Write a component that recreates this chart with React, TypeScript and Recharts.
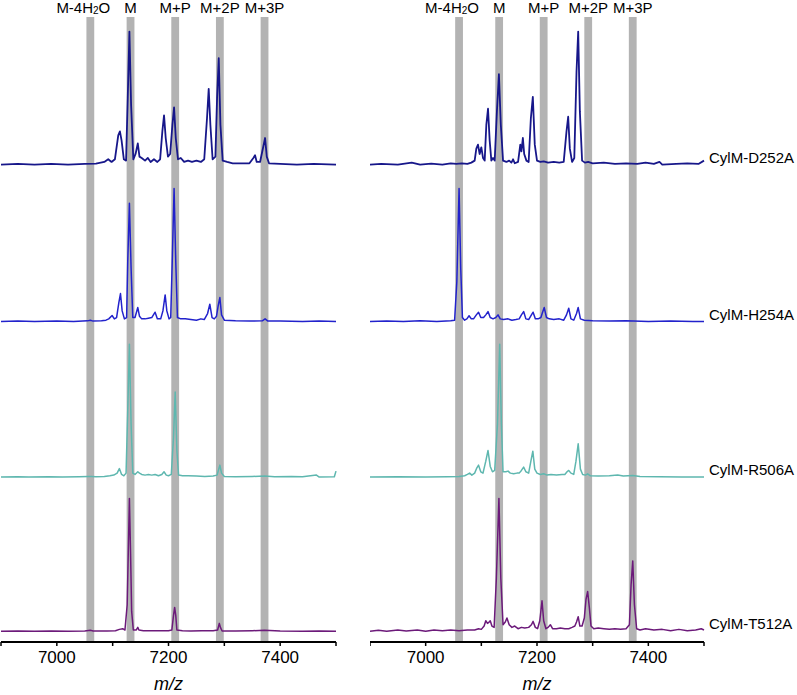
import { LineChart, Line, XAxis, YAxis, ReferenceArea, ReferenceDot } from 'recharts'

type Point = [number, number]

// m/z axis
const mzTicks = [6900, 7000, 7100, 7200, 7300, 7400, 7500]
const labelledTicks = [7000, 7200, 7400]

// gray marker bands
const bandCenters = [7060, 7132, 7212, 7292, 7372]
const bandLabels = ['M-4H2O', 'M', 'M+P', 'M+2P', 'M+3P']

// traces, top to bottom
const traceNames = ['CylM-D252A', 'CylM-H254A', 'CylM-R506A', 'CylM-T512A']
const traceColors = ['#17178a', '#2222cc', '#5eb7af', '#6c1a7a']
const traceOffsets = [359, 241, 124, 8]

// relative intensity (%)
const leftD252A: Point[] = [
  [6900, 0], [6930, 0.5], [6960, 0], [6990, 0.6], [7020, 0], [7050, 0.5], [7070, 0.8], [7085, 2], [7092, 4],
  [7098, 2], [7104, 4], [7110, 22], [7113, 25], [7116, 18], [7120, 4], [7124, 3], [7127, 50], [7130, 100],
  [7133, 45], [7137, 4], [7141, 8], [7145, 16], [7148, 6], [7152, 5], [7158, 3], [7163, 5], [7168, 2],
  [7174, 4], [7180, 2], [7185, 4], [7189, 25], [7192, 37], [7195, 20], [7199, 6], [7203, 8], [7207, 30],
  [7210, 43], [7213, 20], [7217, 4], [7222, 5], [7228, 2], [7235, 3], [7242, 2], [7250, 3], [7258, 2],
  [7264, 4], [7269, 35], [7272, 57], [7275, 30], [7279, 4], [7284, 6], [7287, 50], [7290, 80], [7293, 30],
  [7297, 3], [7305, 2], [7315, 1], [7330, 1], [7345, 1], [7352, 5], [7355, 7], [7358, 2], [7364, 2],
  [7370, 14], [7373, 20], [7376, 6], [7380, 1], [7400, 0.5], [7430, 0], [7460, 0.5], [7500, 0],
]
const leftH254A: Point[] = [
  [6900, 0], [6930, 0.3], [6960, 0], [7000, 0.3], [7030, 0], [7055, 0.5], [7060, 1], [7065, 0.3], [7080, 0.5],
  [7088, 1], [7093, 2], [7099, 4.5], [7103, 2], [7107, 3], [7111, 14], [7114, 21], [7117, 8], [7121, 2],
  [7125, 3], [7127, 45], [7130, 89], [7133, 40], [7136, 3], [7140, 3], [7145, 10.5], [7148, 4], [7152, 2],
  [7158, 2], [7164, 2.5], [7170, 3], [7176, 7], [7180, 2], [7186, 2], [7190, 8], [7194, 20], [7197, 8],
  [7201, 2], [7204, 3], [7207, 50], [7210, 100], [7213, 45], [7216, 3], [7222, 2], [7230, 2], [7240, 1.5],
  [7250, 1], [7258, 2], [7264, 1.5], [7270, 6], [7274, 13], [7278, 3], [7282, 2], [7286, 4], [7289, 12],
  [7292, 18], [7295, 5], [7300, 1], [7320, 0.5], [7345, 0.3], [7368, 0.5], [7373, 2], [7378, 0.3],
  [7400, 0.3], [7440, 0], [7470, 0.3], [7500, 0],
]
const leftR506A: Point[] = [
  [6900, 0], [6930, 0.3], [6950, 0], [6985, 0.3], [7010, 0], [7040, 0.3], [7056, 0.5], [7062, 0.5], [7070, 0.3],
  [7085, 0.5], [7095, 1], [7102, 1.5], [7108, 3], [7112, 6.4], [7116, 2], [7120, 1], [7124, 3], [7127, 50],
  [7130, 100], [7133, 40], [7136, 3], [7140, 2], [7145, 4], [7148, 3], [7152, 2], [7158, 1.5], [7164, 2],
  [7170, 1.5], [7176, 2], [7182, 1], [7188, 2], [7192, 4], [7196, 1.5], [7200, 1], [7205, 2], [7209, 30],
  [7212, 64], [7215, 20], [7218, 1.5], [7225, 1], [7235, 1], [7250, 0.8], [7265, 0.5], [7280, 0.8],
  [7287, 1.5], [7290, 6], [7292, 9], [7295, 3], [7300, 0.5], [7320, 0.3], [7350, 0.5], [7372, 0.8],
  [7390, 0.3], [7420, 0.5], [7440, 0.3], [7465, 1.5], [7470, 0], [7497, 0.3], [7500, 4.5],
]
const leftT512A: Point[] = [
  [6900, 0], [6930, 0.3], [6960, 0], [6990, 0.3], [7020, 0], [7050, 0.3], [7060, 0.8], [7065, 0.3], [7090, 0.3],
  [7105, 0.5], [7112, 1.5], [7118, 2], [7122, 1], [7126, 20], [7128, 60], [7130, 100], [7132, 60], [7134, 15],
  [7137, 1], [7142, 1], [7145, 3], [7147, 1], [7155, 0.5], [7170, 0.5], [7185, 0.5], [7200, 0.5], [7206, 1],
  [7209, 12], [7211, 18], [7213, 12], [7215, 1], [7225, 0.5], [7240, 0.3], [7260, 0.5], [7280, 0.5],
  [7288, 1], [7291, 6], [7293, 3], [7296, 0.3], [7320, 0.3], [7350, 0.5], [7372, 0.8], [7400, 0.3],
  [7440, 0], [7470, 0.3], [7500, 0],
]

// relative intensity (%)
const rightD252A: Point[] = [
  [6900, 0], [6920, 0.5], [6950, 0], [6975, 1.5], [6990, 0], [7010, 0.8], [7030, 0], [7045, 1], [7055, 0.5],
  [7065, 1], [7075, 0.5], [7082, 1.5], [7088, 3], [7091, 12], [7094, 15], [7097, 8], [7100, 13], [7103, 5],
  [7106, 3], [7109, 30], [7112, 42], [7115, 18], [7118, 3], [7121, 5], [7124, 3], [7128, 40], [7131.6, 68],
  [7135, 30], [7139, 3], [7145, 2], [7150, 3], [7154, 1.5], [7157, 4], [7160, 1], [7166, 2], [7170, 15],
  [7172, 10], [7174.6, 20], [7177, 8], [7181, 3], [7185, 2], [7189, 35], [7192.5, 51], [7196, 15], [7200, 3],
  [7206, 2], [7212, 2.5], [7220, 1.5], [7230, 2], [7240, 1.5], [7248, 2], [7253, 25], [7256, 36], [7259, 12],
  [7263, 2], [7267, 5], [7271, 70], [7274, 100], [7277, 40], [7281, 3], [7286, 1.5], [7292, 2], [7300, 1],
  [7320, 1.5], [7340, 0.5], [7360, 1], [7380, 0.5], [7395, 1.5], [7410, 0.5], [7420, 2], [7425, 0],
  [7450, 0.5], [7470, 1], [7490, 0.5], [7500, 3],
]
const rightH254A: Point[] = [
  [6900, 0], [6930, 0.3], [6960, 0], [6990, 0.5], [7020, 0], [7045, 0.5], [7052, 1], [7056, 30], [7060, 100],
  [7063, 40], [7066, 3], [7070, 1], [7074, 2], [7078, 4.3], [7082, 2], [7086, 2], [7091, 5], [7095, 7],
  [7099, 3], [7104, 3], [7108, 5], [7112, 7.5], [7116, 3], [7121, 2], [7126, 3], [7130, 5], [7134, 2],
  [7140, 1.5], [7148, 2], [7155, 1], [7162, 1.5], [7168, 2], [7172, 5], [7176, 7.5], [7180, 2], [7185, 1.5],
  [7190, 5], [7193, 7], [7197, 2], [7202, 2], [7207, 3], [7210, 7], [7213, 10.5], [7217, 3], [7222, 2],
  [7230, 1.5], [7240, 2], [7248, 1], [7253, 5], [7257, 10], [7261, 2], [7266, 1], [7271, 6], [7274, 10.5],
  [7278, 2], [7285, 1], [7300, 0.5], [7330, 0.3], [7360, 0.5], [7400, 0], [7440, 0.3], [7480, 0], [7500, 0],
]
const rightR506A: Point[] = [
  [6900, 0], [6950, 0.3], [7000, 0], [7040, 0.3], [7060, 0.5], [7070, 1], [7075, 2], [7079, 3], [7083, 1.5],
  [7088, 3], [7092, 7], [7095, 9], [7099, 4], [7103, 3], [7108, 12], [7112, 20], [7116, 8], [7120, 4],
  [7124, 5], [7129, 40], [7133, 100], [7136, 40], [7139, 4], [7144, 4], [7148, 4.5], [7152, 3], [7158, 2.5],
  [7164, 3], [7168, 3], [7172, 5], [7176, 7.5], [7180, 4], [7185, 3], [7189, 12], [7192.5, 19.5], [7196, 6],
  [7200, 3], [7206, 2], [7212, 2.5], [7218, 1.5], [7225, 2], [7235, 1.5], [7245, 2], [7250, 2], [7254, 4],
  [7257, 5], [7261, 3], [7266, 2], [7270, 12], [7274, 25], [7278, 6], [7282, 2], [7287, 1.5], [7291, 2.5],
  [7296, 1], [7310, 0.8], [7330, 1], [7345, 1.5], [7355, 0.8], [7372, 1.2], [7385, 0.5], [7420, 0.3],
  [7460, 0], [7500, 0],
]
const rightT512A: Point[] = [
  [6900, 0], [6915, 0.8], [6930, 0], [6950, 1], [6965, 0.3], [6985, 1], [7000, 0], [7015, 1], [7030, 0.5],
  [7045, 1], [7060, 0.5], [7075, 1], [7088, 1], [7095, 2], [7100, 1.5], [7105, 4], [7108, 8], [7111, 6],
  [7114, 7], [7116, 8], [7119, 4], [7123, 3], [7127, 40], [7131.6, 100], [7135, 40], [7139, 5], [7143, 7],
  [7146, 10], [7150, 5], [7155, 3], [7160, 4], [7166, 2], [7172, 3], [7178, 2.5], [7185, 3], [7190, 5],
  [7193, 7.5], [7197, 3], [7201, 2], [7205, 8], [7209, 23], [7212, 8], [7216, 2], [7220, 3], [7224, 5],
  [7228, 2], [7235, 2], [7242, 2.5], [7250, 2], [7257, 2], [7263, 3], [7268, 4], [7271, 7], [7274, 11],
  [7277, 4], [7281, 4], [7285, 10], [7288, 24], [7291, 30], [7294, 18], [7297, 4], [7302, 2], [7310, 2.5],
  [7320, 2], [7330, 1.5], [7340, 2], [7350, 1.5], [7360, 2], [7366, 5], [7369, 35], [7372, 53], [7375, 20],
  [7379, 2], [7385, 1], [7395, 2], [7410, 1], [7425, 1.5], [7440, 0.5], [7455, 1.5], [7470, 0.5], [7485, 1],
  [7495, 2], [7500, 1],
]

const leftTraces = [leftD252A, leftH254A, leftR506A, leftT512A]
const rightTraces = [rightD252A, rightH254A, rightR506A, rightT512A]

const FONT = '"Liberation Sans", Arial, sans-serif'
const BAND_HALF = 7
const Y_MAX = 470

const renderBandLabel = (text: string) => (props: any) => {
  const vb = props.viewBox
  const y = vb.y - 4
  if (text === 'M-4H2O') {
    return (
      <text x={vb.x + vb.width / 2 - 7} y={y} textAnchor="middle" fontSize={15} fontFamily={FONT} fill="#000">
        M-4H<tspan fontSize={10} dy={1}>2</tspan>
        <tspan dy={-1}>O</tspan>
      </text>
    )
  }
  return (
    <text x={vb.x + vb.width / 2} y={y} textAnchor="middle" fontSize={15} fontFamily={FONT} fill="#000">
      {text}
    </text>
  )
}

const renderTraceName = (name: string) => (props: any) => {
  const vb = props.viewBox
  return (
    <text x={vb.x + 5} y={vb.y - 2} fontSize={15} fontFamily={FONT} fill="#000">
      {name}
    </text>
  )
}

function Panel({ traces, showNames }: { traces: Point[][]; showNames: boolean }) {
  return (
    <LineChart
      width={showNames ? 427 : 340}
      height={695}
      margin={{ top: 17, right: showNames ? 93 : 4, bottom: 23, left: showNames ? 0 : 1 }}
    >
      {bandCenters.map((c, i) => (
        <ReferenceArea
          key={c}
          x1={c - BAND_HALF}
          x2={c + BAND_HALF}
          y1={0}
          y2={Y_MAX}
          fill="#b3b3b3"
          fillOpacity={1}
          stroke="none"
          label={renderBandLabel(bandLabels[i])}
        />
      ))}
      <XAxis
        type="number"
        dataKey="x"
        domain={[6900, 7500]}
        ticks={mzTicks}
        tickFormatter={(v) => (labelledTicks.includes(v) ? String(v) : '')}
        tick={{ fontSize: 17, fill: '#000', fontFamily: FONT }}
        tickSize={4}
        tickMargin={5}
        tickLine={{ stroke: '#000', strokeWidth: 1.5 }}
        axisLine={{ stroke: '#000', strokeWidth: 2 }}
        height={30}
        label={{ value: 'm/z', position: 'bottom', offset: 5, fontSize: 18, fontStyle: 'italic', fill: '#000', fontFamily: FONT }}
      />
      <YAxis type="number" domain={[0, Y_MAX]} hide />
      {traces.map((pts, i) => (
        <Line
          key={traceNames[i]}
          data={pts.map(([x, v]) => ({ x, y: traceOffsets[i] + v }))}
          dataKey="y"
          type="linear"
          stroke={traceColors[i]}
          strokeWidth={i === 0 ? 1.8 : 1.5}
          strokeLinejoin="round"
          dot={false}
          activeDot={false}
          isAnimationActive={false}
        />
      ))}
      {showNames &&
        traceNames.map((name, i) => (
          <ReferenceDot
            key={name}
            x={7500}
            y={traceOffsets[i]}
            r={0}
            fill="none"
            stroke="none"
            ifOverflow="visible"
            label={renderTraceName(name)}
          />
        ))}
    </LineChart>
  )
}

export default function App() {
  return (
    <div style={{ position: 'absolute', left: 0, top: 0, width: 797, height: 695, background: '#fff', fontFamily: FONT }}>
      <div style={{ position: 'absolute', left: 0, top: 0 }}>
        <Panel traces={leftTraces} showNames={false} />
      </div>
      <div style={{ position: 'absolute', left: 370, top: 0 }}>
        <Panel traces={rightTraces} showNames={true} />
      </div>
    </div>
  )
}
